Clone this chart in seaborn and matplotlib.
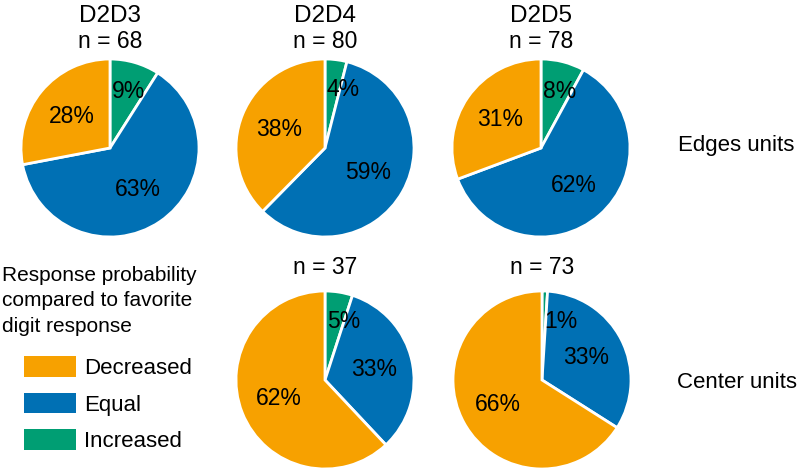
import matplotlib
matplotlib.use("Agg")
import matplotlib.pyplot as plt
from matplotlib.patches import Patch
import seaborn as sns

# slice order: Increased, Equal, Decreased (clockwise from 12 o'clock)
categories = ["Increased", "Equal", "Decreased"]
legend_order = ["Decreased", "Equal", "Increased"]

edges_titles = ["D2D3", "D2D4", "D2D5"]
edges_n = [68, 80, 78]
edges_vals = [[9, 63, 28], [4, 59, 38], [8, 62, 31]]

center_titles = ["D2D4", "D2D5"]
center_n = [37, 73]
center_vals = [[5, 33, 62], [1, 33, 66]]

sns.set_theme(style="white")
plt.rcParams["font.family"] = ["Liberation Sans", "DejaVu Sans"]
plt.rcParams["text.color"] = "black"

colors = {"Increased": "#009E73", "Equal": "#0070B4", "Decreased": "#F7A100"}
pie_colors = [colors[c] for c in categories]

W, H = 800, 473
fig = plt.figure(figsize=(W / 100, H / 100), dpi=100)


def draw_pie(cx, cy, r, vals):
    ax = fig.add_axes([(cx - r) / W, 1 - (cy + r) / H, 2 * r / W, 2 * r / H])
    it = iter(vals)
    wedges, texts, autotexts = ax.pie(
        vals, colors=pie_colors, startangle=90, counterclock=False,
        autopct=lambda p: f"{next(it)}%", pctdistance=0.56,
        wedgeprops=dict(edgecolor="white", linewidth=2),
        textprops=dict(fontsize=16.5, color="black"))
    # the thin slices have their labels set just right of 12 o'clock
    for v, t in zip(vals, autotexts):
        if v < 10:
            x, y = t.get_position()
            t.set_position((0.02, y * 1.18))
            t.set_ha("left")
    ax.set_xlim(-1, 1)
    ax.set_ylim(-1, 1)
    ax.axis("off")
    return ax


r = 89
top_x = [110, 325, 541]
for x, t, n, v in zip(top_x, edges_titles, edges_n, edges_vals):
    draw_pie(x, 148, r, v)
    fig.text(x / W, 1 - 16 / H, t, ha="center", va="center", fontsize=17.5)
    fig.text(x / W, 1 - 42 / H, f"n = {n}", ha="center", va="center", fontsize=16.5)

bot_x = [325, 542]
for x, n, v in zip(bot_x, center_n, center_vals):
    draw_pie(x, 380, r, v)
    fig.text(x / W, 1 - 267 / H, f"n = {n}", ha="center", va="center", fontsize=16.5)

fig.text(678 / W, 1 - 146 / H, "Edges units", ha="left", va="center", fontsize=16)
fig.text(677 / W, 1 - 382 / H, "Center units", ha="left", va="center", fontsize=16)

fig.text(2 / W, 1 - 266 / H, "Response probability\ncompared to favorite\ndigit response",
         ha="left", va="top", fontsize=15, linespacing=1.42)

handles = [Patch(facecolor=colors[c], edgecolor="none") for c in legend_order]
fig.legend(handles, legend_order, loc="upper left", bbox_to_anchor=(24 / W, 1 - 356 / H),
           frameon=False, fontsize=16, handlelength=2.35, handleheight=1.05,
           handletextpad=0.35, labelspacing=0.62, borderpad=0, borderaxespad=0)

fig.savefig("out.png", dpi=100)
